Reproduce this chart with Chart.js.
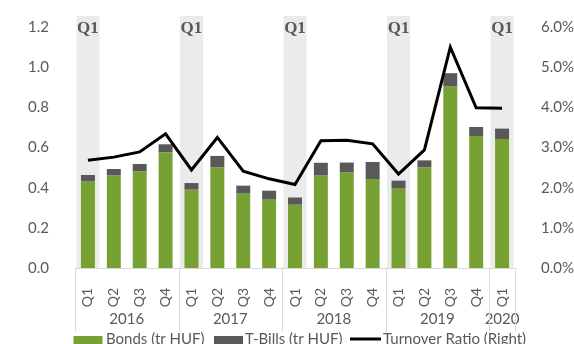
<!DOCTYPE html>
<html>
<head>
<meta charset="utf-8">
<script src="https://cdn.jsdelivr.net/npm/chart.js@4/dist/chart.umd.min.js"></script>
<style>
  html, body { margin: 0; padding: 0; background: #fff; }
  #wrap { width: 574px; height: 344px; position: relative; }
</style>
</head>
<body>
<div id="wrap"><canvas id="chartTurnover" width="574" height="344"></canvas></div>
<script>
// ── Data ──
const quarters = ['Q1','Q2','Q3','Q4','Q1','Q2','Q3','Q4','Q1','Q2','Q3','Q4','Q1','Q2','Q3','Q4','Q1'];
const years    = ['2016','2017','2018','2019','2020'];
const yearSpan = [4, 4, 4, 4, 1];   // quarters per year group
const bonds    = [0.43, 0.46, 0.48, 0.575, 0.39, 0.50, 0.37, 0.34, 0.315, 0.46, 0.475, 0.443, 0.395, 0.50, 0.903, 0.657, 0.642];
const tbills   = [0.033, 0.033, 0.038, 0.041, 0.033, 0.058, 0.04, 0.045, 0.036, 0.064, 0.05, 0.085, 0.04, 0.036, 0.067, 0.045, 0.052];
const turnover = [2.68, 2.76, 2.89, 3.34, 2.44, 3.25, 2.41, 2.22, 2.08, 3.17, 3.18, 3.09, 2.34, 2.94, 5.50, 3.99, 3.98];
const leftTicks  = [0, 0.2, 0.4, 0.6, 0.8, 1.0, 1.2];
const rightTicks = [0, 1, 2, 3, 4, 5, 6];

// ── Styles ──
const GREEN = '#77A133';
const DARK  = '#595959';
const TXT   = '#595959';
const LINE  = '#D9D9D9';
const BAND  = '#EBEBEB';
const FONT  = 'Lato, "Open Sans", sans-serif';

// Q1 shading, year groups and legend (Excel-style)
const excelDecor = {
  id: 'excelDecor',
  beforeDatasetsDraw(chart) {
    const { ctx, chartArea, scales: { x } } = chart;
    const cw = x.width / quarters.length;
    ctx.save();
    quarters.forEach((q, i) => {
      if (q !== 'Q1') return;
      const cx = x.getPixelForValue(i);
      ctx.fillStyle = BAND;
      ctx.fillRect(cx - cw * 0.445, 16, cw * 0.89, chartArea.bottom - 16);
      ctx.fillStyle = TXT;
      ctx.font = 'bold 17px "Liberation Serif", serif';
      ctx.textAlign = 'center';
      ctx.textBaseline = 'alphabetic';
      ctx.fillText('Q1', cx, 33);
    });
    ctx.restore();
  },
  afterDraw(chart) {
    const { ctx, chartArea, scales: { x } } = chart;
    const cw = x.width / quarters.length;
    ctx.save();
    // axis line
    ctx.strokeStyle = LINE;
    ctx.lineWidth = 1;
    ctx.beginPath();
    ctx.moveTo(chartArea.left, chartArea.bottom + 0.5);
    ctx.lineTo(chartArea.right, chartArea.bottom + 0.5);
    ctx.stroke();
    // group dividers + year labels
    let start = 0;
    const edges = [chartArea.left];
    ctx.fillStyle = TXT;
    ctx.font = '15px ' + FONT;
    ctx.textAlign = 'center';
    ctx.textBaseline = 'middle';
    years.forEach((yr, g) => {
      const l = x.getPixelForValue(start) - cw / 2;
      const r = x.getPixelForValue(start + yearSpan[g] - 1) + cw / 2;
      ctx.fillText(yr, (l + r) / 2, 319);
      edges.push(r);
      start += yearSpan[g];
    });
    ctx.beginPath();
    edges.forEach(e => {
      const px = Math.round(e) + 0.5;
      ctx.moveTo(px, chartArea.bottom);
      ctx.lineTo(px, 332);
    });
    ctx.stroke();

    // legend
    const ly = 339;
    ctx.font = '15px ' + FONT;
    ctx.textAlign = 'left';
    ctx.textBaseline = 'middle';
    ctx.fillStyle = GREEN;
    ctx.fillRect(73.5, 336, 29, 8);
    ctx.fillStyle = TXT;
    ctx.fillText('Bonds (tr HUF)', 106, ly);
    ctx.fillStyle = DARK;
    ctx.fillRect(214, 336, 29, 8);
    ctx.fillStyle = TXT;
    ctx.fillText('T-Bills (tr HUF)', 245, ly);
    ctx.strokeStyle = '#000';
    ctx.lineWidth = 3;
    ctx.beginPath();
    ctx.moveTo(350, ly);
    ctx.lineTo(381, ly);
    ctx.stroke();
    ctx.fillText('Turnover Ratio (Right)', 383, ly);
    ctx.restore();
  }
};

new Chart(document.getElementById('chartTurnover'), {
  type: 'bar',
  data: {
    labels: quarters,
    datasets: [
      { type: 'line', label: 'Turnover Ratio (Right)', data: turnover, yAxisID: 'y2',
        borderColor: '#000', borderWidth: 3, pointRadius: 0, tension: 0, order: 0 },
      { label: 'Bonds (tr HUF)', data: bonds, backgroundColor: GREEN, stack: 's', order: 1,
        categoryPercentage: 1, barPercentage: 0.54 },
      { label: 'T-Bills (tr HUF)', data: tbills, backgroundColor: DARK, stack: 's', order: 1,
        categoryPercentage: 1, barPercentage: 0.54 },
    ]
  },
  options: {
    responsive: false,
    animation: false,
    devicePixelRatio: 1,
    layout: { padding: { top: 27, left: 0, right: 0, bottom: 0 } },
    plugins: { legend: { display: false }, tooltip: { enabled: false } },
    scales: {
      x: {
        stacked: true,
        grid: { display: false },
        border: { display: false },
        ticks: { color: TXT, font: { family: FONT, size: 14 }, autoSkip: false,
                 minRotation: 90, maxRotation: 90, padding: 12 },
        afterFit: s => { s.height = 76; }
      },
      y: {
        stacked: true, position: 'left', min: 0, max: 1.2,
        grid: { display: false }, border: { display: false },
        afterBuildTicks: s => { s.ticks = leftTicks.map(v => ({ value: v })); },
        ticks: { color: TXT, font: { family: FONT, size: 15 }, padding: 18,
                 callback: v => v.toFixed(1) },
        afterFit: s => { s.width = 75; }
      },
      y2: {
        position: 'right', min: 0, max: 6,
        grid: { display: false }, border: { display: false },
        afterBuildTicks: s => { s.ticks = rightTicks.map(v => ({ value: v })); },
        ticks: { color: TXT, font: { family: FONT, size: 15 }, padding: 18,
                 callback: v => v.toFixed(1) + '%' },
        afterFit: s => { s.width = 59; }
      }
    }
  },
  plugins: [excelDecor]
});
</script>
</body>
</html>
